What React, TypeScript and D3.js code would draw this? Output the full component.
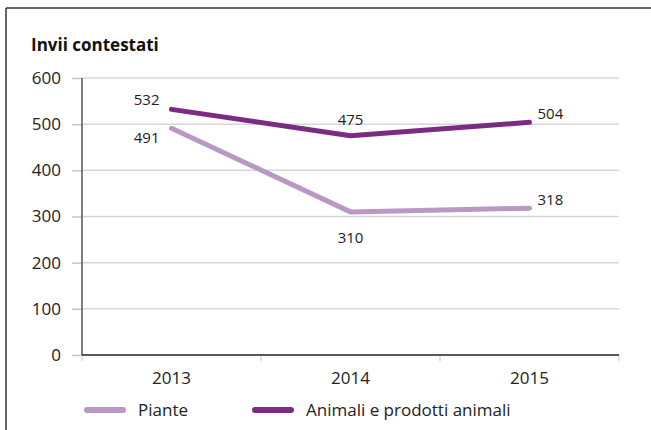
import React, { useEffect, useRef } from "react";
import * as d3 from "d3";

const years = ["2013", "2014", "2015"];
const piante = [491, 310, 318];
const animali = [532, 475, 504];
const yTicks = [0, 100, 200, 300, 400, 500, 600];

const series = [
  { name: "Piante", values: piante, color: "#b899c6" },
  { name: "Animali e prodotti animali", values: animali, color: "#7b2b82" },
];

export default function App() {
  const svgRef = useRef<SVGSVGElement>(null);

  useEffect(() => {
    if (!svgRef.current) return;
    const width = 651;
    const height = 430;
    const margin = { top: 78, right: 32, bottom: 75, left: 82 };
    const innerWidth = width - margin.left - margin.right;
    const innerHeight = height - margin.top - margin.bottom;
    const font = "'Open Sans', 'DejaVu Sans', sans-serif";

    const svg = d3.select(svgRef.current);
    svg.selectAll("*").remove();

    // frame: top and left rule only
    svg.append("line").attr("x1", 6).attr("x2", width).attr("y1", 8).attr("y2", 8)
      .attr("stroke", "#333").attr("stroke-width", 1.5);
    svg.append("line").attr("x1", 6).attr("x2", 6).attr("y1", 8).attr("y2", height)
      .attr("stroke", "#333").attr("stroke-width", 1.5);

    svg.append("text")
      .attr("x", 31).attr("y", 51)
      .style("font-family", font)
      .style("font-size", "17px")
      .style("font-weight", "700")
      .style("fill", "#111")
      .text("Invii contestati");

    const g = svg.append("g").attr("transform", `translate(${margin.left},${margin.top})`);

    const x = d3.scaleBand().domain(years).range([0, innerWidth]);
    const y = d3.scaleLinear().domain([0, 600]).range([innerHeight, 0]);

    // gridlines
    g.selectAll(".grid")
      .data(yTicks.filter(t => t > 0))
      .enter()
      .append("line")
      .attr("x1", 0).attr("x2", innerWidth)
      .attr("y1", d => y(d)).attr("y2", d => y(d))
      .attr("stroke", "#d6d6d6").attr("stroke-width", 1.5);

    // y axis
    const yAxis = g.append("g").call(
      d3.axisLeft(y).tickValues(yTicks).tickSize(10).tickPadding(11)
    );
    yAxis.select(".domain").remove();
    yAxis.selectAll(".tick line").attr("stroke", "#c4c4c4").attr("stroke-width", 1.5);
    yAxis.selectAll(".tick text")
      .style("font-family", font).style("font-size", "17px").style("fill", "#222");
    g.append("line").attr("x1", 0).attr("x2", 0).attr("y1", 0).attr("y2", innerHeight)
      .attr("stroke", "#555").attr("stroke-width", 1.5);

    // x axis
    const bounds = [0, ...years.map(d => (x(d) as number) + x.bandwidth())];
    g.selectAll(".xtick")
      .data(bounds)
      .enter()
      .append("line")
      .attr("x1", d => d).attr("x2", d => d)
      .attr("y1", innerHeight).attr("y2", innerHeight + 6)
      .attr("stroke", "#c4c4c4");
    g.append("line").attr("x1", 0).attr("x2", innerWidth).attr("y1", innerHeight).attr("y2", innerHeight)
      .attr("stroke", "#222").attr("stroke-width", 1.5);
    g.selectAll(".xlabel")
      .data(years)
      .enter()
      .append("text")
      .attr("x", d => (x(d) as number) + x.bandwidth() / 2)
      .attr("y", innerHeight + 29)
      .attr("text-anchor", "middle")
      .style("font-family", font).style("font-size", "17px").style("fill", "#222")
      .text(d => d);

    const cx = (d: string) => (x(d) as number) + x.bandwidth() / 2;
    const line = d3.line<number>()
      .x((_, i) => cx(years[i]))
      .y(v => y(v));

    series.forEach(s => {
      g.append("path")
        .attr("d", line(s.values))
        .attr("fill", "none")
        .attr("stroke", s.color)
        .attr("stroke-width", 5)
        .attr("stroke-linecap", "round")
        .attr("stroke-linejoin", "round");
    });

    // value labels
    const labelStyle = (sel: any) =>
      sel.style("font-family", font).style("font-size", "15px").style("fill", "#222");
    const placements = [
      // piante
      [{ dx: -12, dy: 15, anchor: "end" }, { dx: 0, dy: 31, anchor: "middle" }, { dx: 8, dy: -3, anchor: "start" }],
      // animali
      [{ dx: -12, dy: -4, anchor: "end" }, { dx: 0, dy: -11, anchor: "middle" }, { dx: 8, dy: -3, anchor: "start" }],
    ];
    series.forEach((s, si) => {
      s.values.forEach((v, i) => {
        const p = placements[si][i];
        g.append("text")
          .attr("x", cx(years[i]) + p.dx)
          .attr("y", y(v) + p.dy)
          .attr("text-anchor", p.anchor)
          .call(labelStyle)
          .text(v);
      });
    });

    // legend
    const legend = svg.append("g").attr("transform", "translate(0,410)");
    const legendPos = [87, 255];
    series.forEach((s, i) => {
      legend.append("line")
        .attr("x1", legendPos[i]).attr("x2", legendPos[i] + 36)
        .attr("y1", 0).attr("y2", 0)
        .attr("stroke", s.color).attr("stroke-width", 6).attr("stroke-linecap", "round");
      legend.append("text")
        .attr("x", legendPos[i] + 51).attr("y", 6)
        .style("font-family", font).style("font-size", "17px").style("fill", "#222")
        .text(s.name);
    });
  }, []);

  return (
    <svg
      ref={svgRef}
      width={651}
      height={430}
      style={{ position: "absolute", left: 0, top: 0, background: "#fff" }}
    />
  );
}
